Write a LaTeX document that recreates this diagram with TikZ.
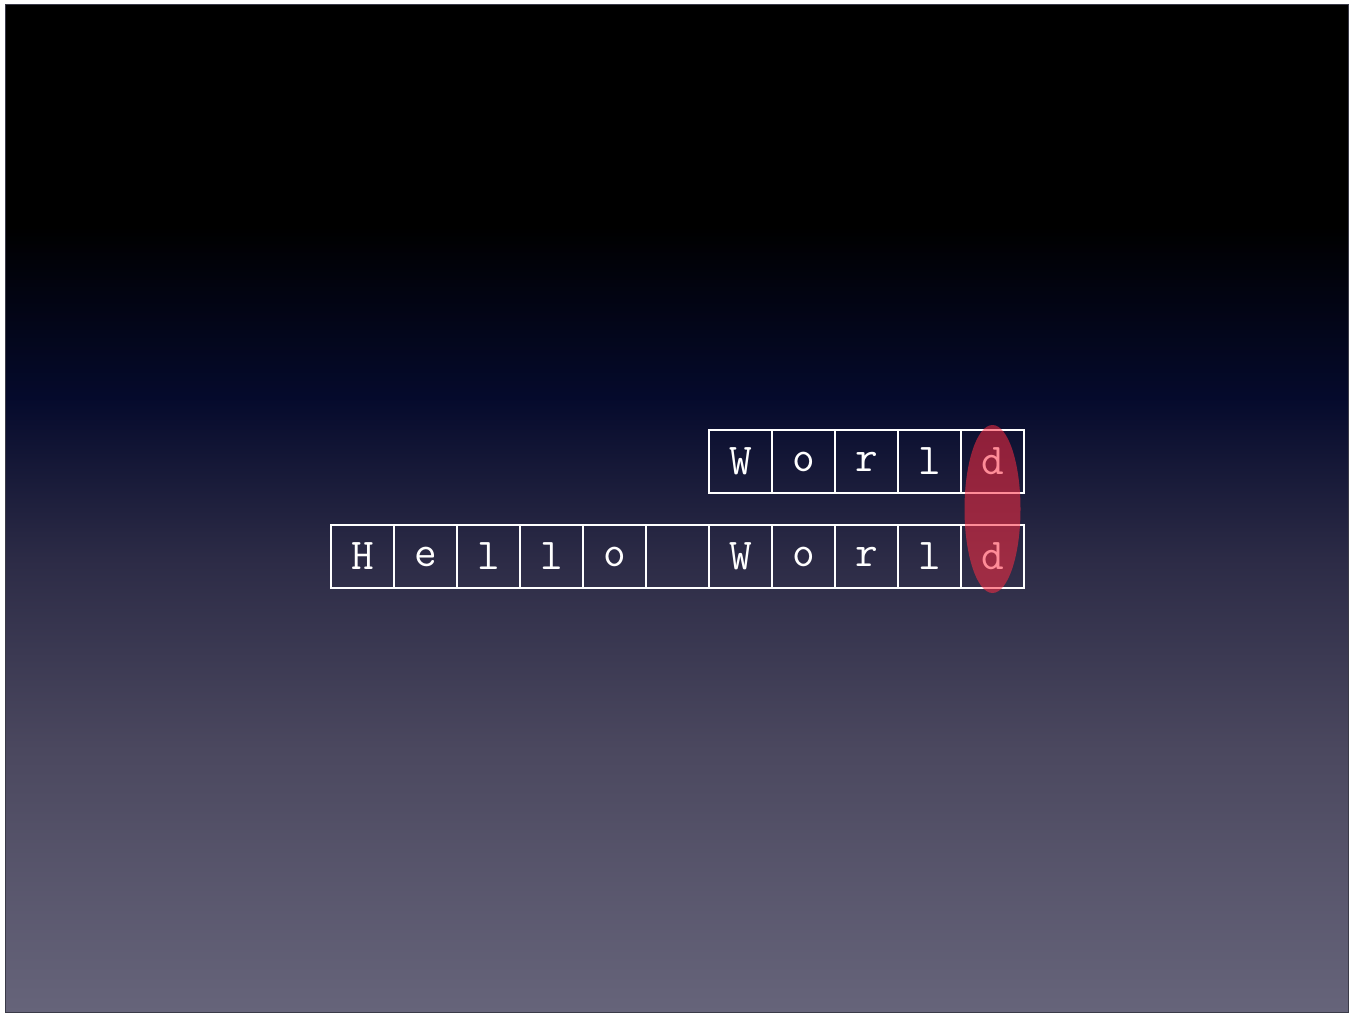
\documentclass[tikz,border=0pt]{standalone}
\usepackage{xcolor}
\usepackage{tikz}
\usetikzlibrary{positioning,calc,shapes.geometric}
\definecolor{cTop}{HTML}{000000}
\definecolor{cNavy}{HTML}{050A2C}
\definecolor{cMid}{HTML}{2C2B46}
\definecolor{cLow}{HTML}{4B485F}
\definecolor{cBot}{HTML}{66647A}
\definecolor{cFrame}{HTML}{3A3A48}
\definecolor{cMark}{HTML}{FF2C41}
% the path is fitted into the middle 50bp of the shading
\pgfdeclareverticalshading{slidebg}{100bp}{
  color(0bp)=(cBot); color(25bp)=(cBot); color(38bp)=(cLow); color(47.5bp)=(cMid);
  color(55.5bp)=(cNavy); color(64bp)=(cTop); color(100bp)=(cTop)}
\tikzset{
  cell/.style={draw=white, line width=2pt, minimum width=63pt, minimum height=63pt,
               inner sep=0pt, outer sep=0pt, text=white,
               font=\ttfamily\fontsize{44}{44}\selectfont},
  hilite/.style={ellipse, fill=cMark, fill opacity=0.54, draw=none,
                 minimum width=56pt, minimum height=168pt, inner sep=0pt}
}

\begin{document}
\begin{tikzpicture}[x=1pt, y=-1pt]
\useasboundingbox (0,0) rectangle (1349,1014);
\shade[shading=slidebg] (5,5) rectangle (1348,1012);
\draw[cFrame, line width=1pt] (5,5) rectangle (1348,1012);
% lower row: Hello World
\foreach \ch [count=\i] in {H,e,l,l,o,{},W,o,r,l,d}
  \node[cell] (bot\i) at ({331+63*\i-31.5},556.5) {\ch};
% upper row: World
\foreach \ch [count=\i] in {W,o,r,l,d}
  \node[cell] (top\i) at ({709+63*\i-31.5},461.5) {\ch};
% matching last letter
\node[hilite] (mark) at ($(top5)!0.5!(bot11)$) {};
\end{tikzpicture}
\end{document}
